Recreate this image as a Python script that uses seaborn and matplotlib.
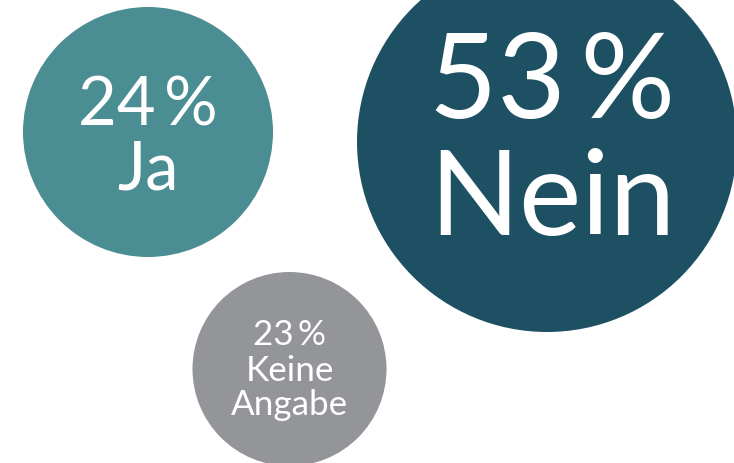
import matplotlib
matplotlib.use("Agg")
import matplotlib.pyplot as plt
import seaborn as sns
import pandas as pd

# Umfragewerte
antworten = ["Ja", "Nein", "Keine Angabe"]
prozente = [24, 53, 23]
beschriftung = [["Ja"], ["Nein"], ["Keine", "Angabe"]]

# Farben der Kreise
farben = {"Ja": "#4A8D93", "Nein": "#1E5064", "Keine Angabe": "#949599"}

# Layout in Pixeln (Bild 734x464)
mitte_x = [148, 547, 289.5]
mitte_y = [133, 143, 370]
radius = [125, 190, 97]
schrift_px = [67, 118, 35]        # Schriftgroesse in Pixel
grundlinien = [[126, 190], [118, 235], [345, 381, 415]]

DPI = 100
sns.set_theme(style="white")
plt.rcParams["font.family"] = ["Lato", "DejaVu Sans"]

df = pd.DataFrame({"antwort": antworten, "x": mitte_x, "y": mitte_y})
groessen = {a: (2 * r * 72 / DPI) ** 2 for a, r in zip(antworten, radius)}

fig = plt.figure(figsize=(7.34, 4.64), dpi=DPI)
ax = fig.add_axes([0, 0, 1, 1])
sns.scatterplot(data=df, x="x", y="y", hue="antwort", palette=farben,
                size="antwort", sizes=groessen, linewidth=0, alpha=1,
                legend=False, ax=ax)
ax.set_xlim(0, 734)
ax.set_ylim(464, 0)
ax.axis("off")

# Texte in den Kreisen
for i, wert in enumerate(prozente):
    zeilen = [f"{wert}\u2009%"] + beschriftung[i]
    for zeile, gy in zip(zeilen, grundlinien[i]):
        ax.text(mitte_x[i] + 5 * (i == 1), gy, zeile, ha="center", va="baseline",
                color="white", fontsize=schrift_px[i] * 72 / DPI,
                fontweight="normal")

fig.savefig("out.png", dpi=DPI)
